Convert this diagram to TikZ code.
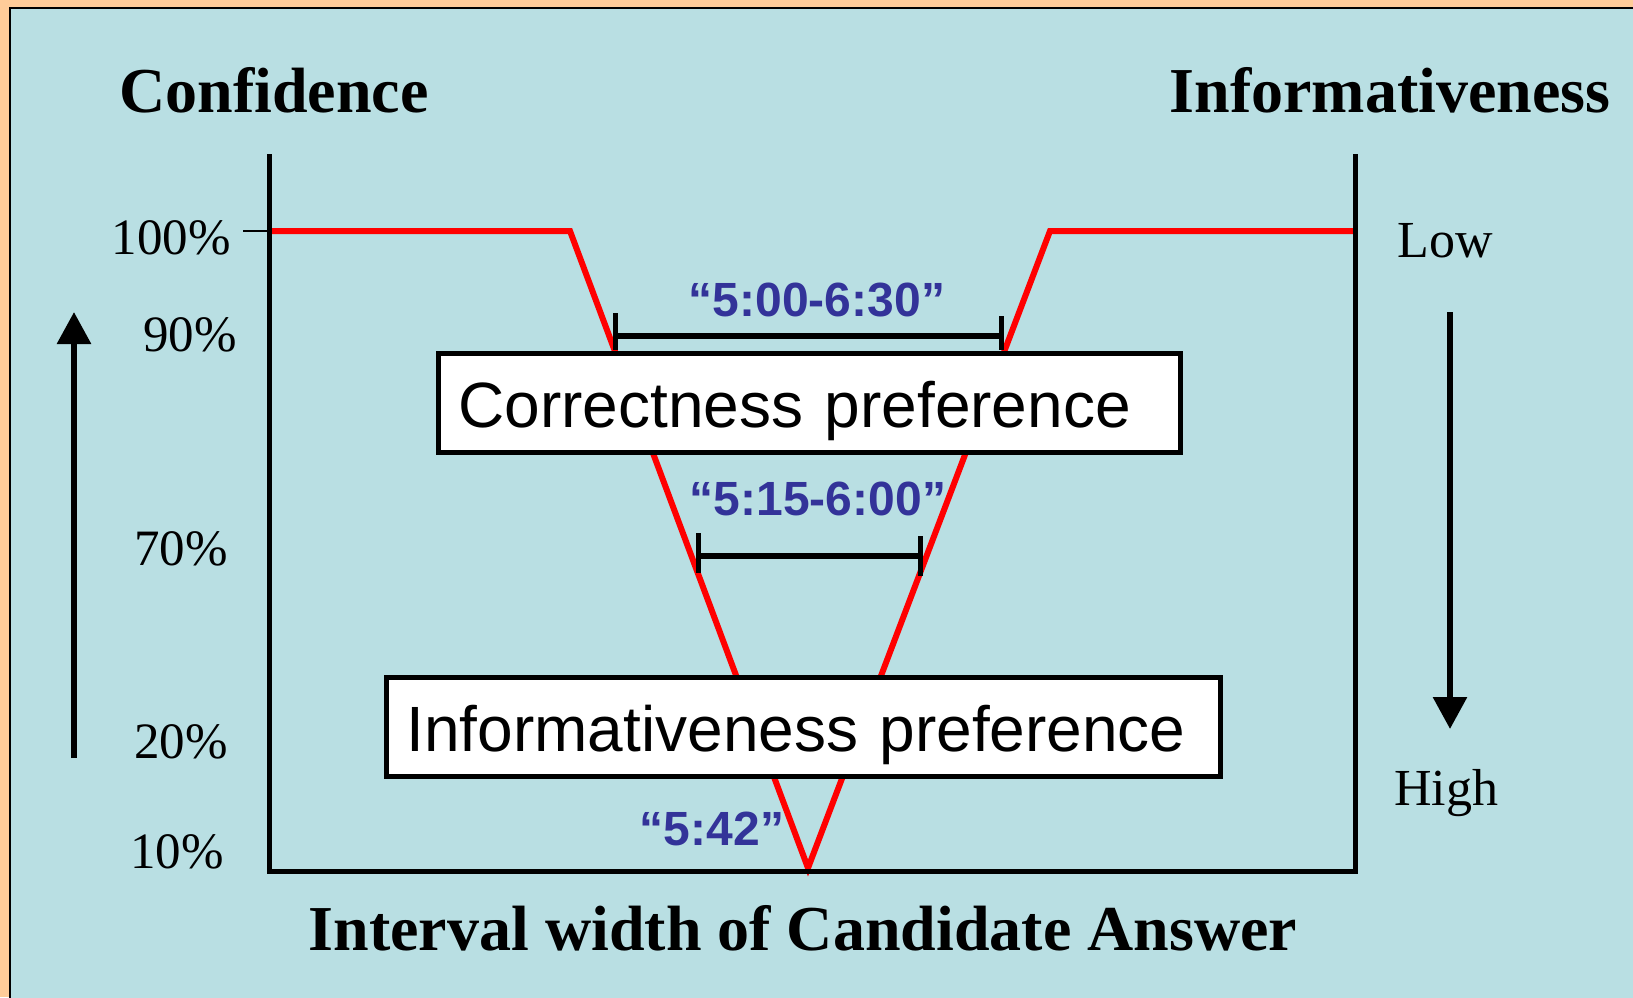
\documentclass[tikz,border=0pt]{standalone}
\usepackage{fontspec}
\setmainfont{Liberation Serif}
\newfontfamily\arialfont{Liberation Sans}
\usetikzlibrary{arrows.meta}
\definecolor{panelblue}{RGB}{185,223,227}
\definecolor{frameorange}{RGB}{255,204,153}
\definecolor{labelblue}{RGB}{51,51,153}
\tikzset{
  titletext/.style={font=\bfseries\fontsize{32}{38}\selectfont, inner sep=0pt, anchor=base},
  pcttext/.style={font=\fontsize{25.5}{30}\selectfont, inner sep=0pt, anchor=base east},
  sidetext/.style={font=\fontsize{26}{31}\selectfont, inner sep=0pt, anchor=base},
  ivtext/.style={text=labelblue, font=\arialfont\bfseries\fontsize{24}{29}\selectfont, inner sep=0pt, anchor=base},
  axisline/.style={line width=2.5pt, line join=miter},
  curveline/.style={red, line width=3pt, line join=miter},
  barline/.style={line width=3pt},
  tickline/.style={line width=2.5pt},
  dirarrow/.style={line width=3pt, -{Triangle[length=16pt, width=16.5pt]}},
  prefbox/.style={draw, fill=white, line width=2.5pt, anchor=north west,
    minimum height=49.5pt, inner xsep=10pt, align=left,
    text height=24pt, text depth=0pt,
    font=\arialfont\fontsize{32}{38}\selectfont}
}
\begin{document}
\begin{tikzpicture}[x=0.5pt, y=-0.5pt]
\useasboundingbox (0,0) rectangle (1633,997);
\clip (0,0) rectangle (1633,997);

% frame and panel
\fill[frameorange] (0,0) rectangle (1633,997);
\draw[fill=panelblue, line width=1pt] (9.5,7.5) rectangle (1700,1100);

% axis corners
\coordinate (axTL) at (269,154);
\coordinate (axBL) at (269,871);
\coordinate (axBR) at (1355,871);
\coordinate (axTR) at (1355,154);

% confidence curve
\coordinate (c1) at (272,231);
\coordinate (c2) at (570,231);
\coordinate (c3) at (808,868);
\coordinate (c4) at (1050,231);
\coordinate (c5) at (1353,231);
\draw[curveline] (c1) -- (c2) -- (c3) -- (c4) -- (c5);

% interval bars
\coordinate (b1l) at (615,336);
\coordinate (b1r) at (1001,336);
\coordinate (b1lt) at (615,313);
\coordinate (b1lb) at (615,350);
\coordinate (b1rt) at (1001,316);
\coordinate (b1rb) at (1001,350);
\draw[barline] (b1l) -- (b1r);
\draw[tickline] (b1lt) -- (b1lb);
\draw[tickline] (b1rt) -- (b1rb);

\coordinate (b2l) at (698,556);
\coordinate (b2r) at (920,556);
\coordinate (b2lt) at (698,533);
\coordinate (b2lb) at (698,573);
\coordinate (b2rt) at (920,536);
\coordinate (b2rb) at (920,576);
\draw[barline] (b2l) -- (b2r);
\draw[tickline] (b2lt) -- (b2lb);
\draw[tickline] (b2rt) -- (b2rb);

% preference boxes
\node[prefbox, text width=351pt] (corr) at (436,351) {Correctness preference};
\node[prefbox, text width=397pt] (inform) at (384,675) {Informativeness preference};

% interval labels
\node[ivtext] (iv1) at (817,316) {“5:00-6:30”};
\node[ivtext] (iv2) at (818,515) {“5:15-6:00”};
\node[ivtext] (iv3) at (712,845) {“5:42”};

% axes
\draw[axisline] (axTL) -- (axBL) -- (axBR) -- (axTR);
\coordinate (tick100) at (243,231);
\draw[line width=1pt] (tick100) -- (axTL |- tick100);

% titles
\node[titletext] (tconf) at (274,112) {Confidence};
\node[titletext] (tinfo) at (1390,112) {Informativeness};
\node[titletext] (txaxis) at (803,950) {Interval width of Candidate Answer};

% confidence levels
\node[pcttext] (p100) at (231,254) {100\%};
\node[pcttext] (p90) at (237,351) {90\%};
\node[pcttext] (p70) at (228,565) {70\%};
\node[pcttext] (p20) at (228,758) {20\%};
\node[pcttext] (p10) at (224,868) {10\%};

% informativeness levels
\node[sidetext] (low) at (1445,257) {Low};
\node[sidetext] (high) at (1446,805) {High};

% direction arrows
\coordinate (upS) at (74,758);
\coordinate (upE) at (74,312);
\draw[dirarrow] (upS) -- (upE);
\coordinate (dnS) at (1450,312);
\coordinate (dnE) at (1450,729);
\draw[dirarrow] (dnS) -- (dnE);
\end{tikzpicture}
\end{document}
